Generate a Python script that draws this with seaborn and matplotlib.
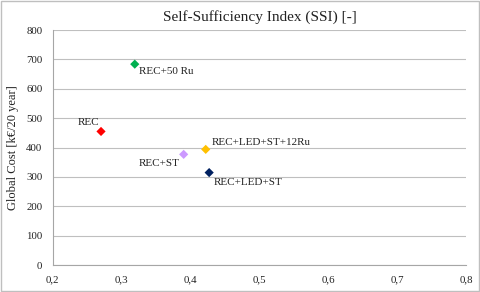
import matplotlib
matplotlib.use("Agg")
import matplotlib.pyplot as plt
import seaborn as sns
import pandas as pd
from matplotlib.ticker import FuncFormatter

labels = ["REC", "REC+50 Ru", "REC+ST", "REC+LED+ST+12Ru", "REC+LED+ST"]
ssi = [0.270, 0.319, 0.390, 0.422, 0.427]
cost = [455, 684, 377, 394, 315]
colors = ["#FF0000", "#00B050", "#CC99FF", "#FFC000", "#002060"]
x_ticks = [0.2, 0.3, 0.4, 0.5, 0.6, 0.7, 0.8]
y_ticks = [0, 100, 200, 300, 400, 500, 600, 700, 800]

df = pd.DataFrame({"label": labels, "ssi": ssi, "cost": cost})

sns.set_style("white")
plt.rcParams['font.family'] = ['Liberation Serif', 'DejaVu Serif']

fig = plt.figure(figsize=(4.8, 2.92), dpi=100)
ax = fig.add_axes([0.110, 0.092, 0.861, 0.805])
sns.scatterplot(data=df, x="ssi", y="cost", hue="label", palette=colors,
                marker="D", s=22, edgecolor="none", legend=False, ax=ax, zorder=3)

offsets = {
    "REC": (-17, 3, "left", "bottom"),
    "REC+50 Ru": (3, -2, "left", "top"),
    "REC+ST": (-3, -3, "right", "top"),
    "REC+LED+ST+12Ru": (4, 2, "left", "bottom"),
    "REC+LED+ST": (3, -4, "left", "top"),
}
for lab, x, y in zip(labels, ssi, cost):
    dx, dy, ha, va = offsets[lab]
    ax.annotate(lab, (x, y), xytext=(dx, dy), textcoords="offset points",
                ha=ha, va=va, fontsize=8, color="#222222")

ax.set_xlim(0.2, 0.8)
ax.set_ylim(0, 800)
ax.set_xticks(x_ticks)
ax.set_yticks(y_ticks)
ax.xaxis.set_major_formatter(FuncFormatter(lambda v, p: f"{v:.1f}".replace(".", ",")))
ax.grid(axis="y", color="#BFBFBF", linewidth=0.8)
ax.grid(axis="x", visible=False)
for s in ["top", "right"]:
    ax.spines[s].set_visible(False)
for s in ["left", "bottom"]:
    ax.spines[s].set_color("#A6A6A6")
    ax.spines[s].set_linewidth(0.8)
ax.tick_params(axis="both", direction="out", length=4, width=0.8, color="#A6A6A6",
               labelsize=7.8, labelcolor="#222222")
ax.set_xlabel("")
ax.set_ylabel("Global Cost [k€/20 year]", fontsize=9, color="#222222", labelpad=5)
ax.set_title("Self-Sufficiency Index (SSI) [-]", fontsize=11, color="#222222", pad=7)

fig.patches.append(plt.Rectangle((0.002, 0.003), 0.996, 0.994, transform=fig.transFigure,
                                 fill=False, edgecolor="#BFBFBF", linewidth=1))
fig.savefig("out.png", dpi=100)
